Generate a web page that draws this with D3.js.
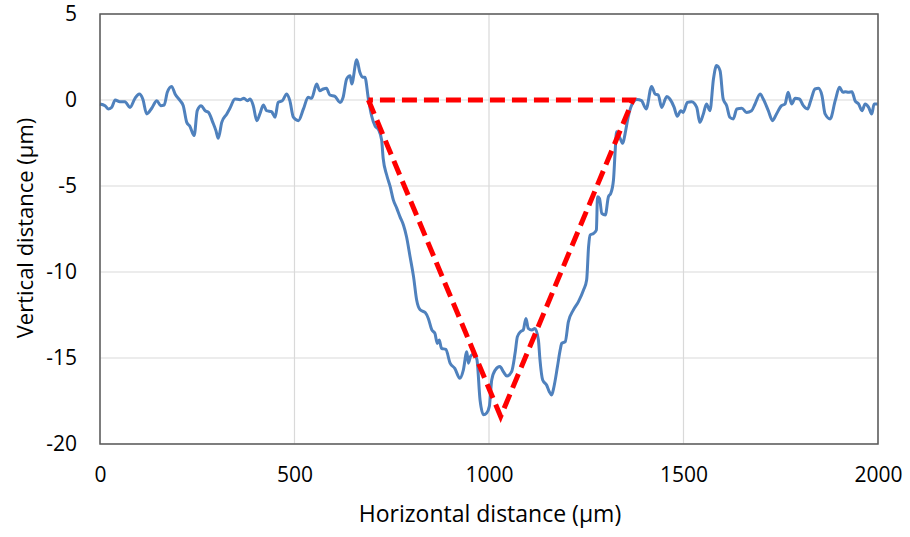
<!doctype html>
<html>
<head>
<meta charset="UTF-8">
<title>Profile</title>
<script src="https://cdn.jsdelivr.net/npm/d3@7"></script>
<style>
  body { margin: 0; background: #fff; }
  svg text { font-family: "Open Sans", "Liberation Sans", sans-serif; fill: #000; }
</style>
</head>
<body>
<div id="chart"></div>
<script>
// measured surface profile (µm)
const profileX = [0, 13, 21, 30, 39, 51, 64, 77, 90, 101, 110, 120, 133, 146, 156, 165, 173, 184, 193, 206,
  214, 223, 231, 242, 250, 260, 270, 279, 290, 298, 304, 313, 326, 334, 347, 360, 370, 379, 386, 394,
  403, 411, 420, 428, 441, 450, 458, 469, 480, 488, 497, 510, 523, 535, 544, 557, 565, 574, 582, 591,
  604, 617, 625, 634, 643, 647, 660, 668, 675, 681, 690, 698, 707, 716, 724, 728, 737, 746, 754, 763,
  771, 780, 788, 797, 806, 814, 823, 836, 844, 853, 861, 867, 872, 878, 889, 900, 912, 925, 934, 943,
  947, 953, 962, 969, 977, 986, 994, 1001, 1007, 1016, 1028, 1037, 1046, 1058, 1067, 1073, 1081, 1088, 1095, 1101,
  1110, 1118, 1127, 1131, 1138, 1148, 1155, 1161, 1167, 1176, 1183, 1187, 1196, 1204, 1217, 1230, 1243, 1251, 1256, 1260,
  1269, 1276, 1279, 1284, 1290, 1299, 1307, 1313, 1320, 1324, 1328, 1337, 1344, 1350, 1358, 1367, 1380, 1392, 1404, 1418,
  1427, 1435, 1444, 1457, 1465, 1476, 1484, 1493, 1499, 1510, 1521, 1534, 1542, 1551, 1559, 1568, 1577, 1585, 1594, 1602,
  1611, 1619, 1628, 1637, 1650, 1662, 1675, 1684, 1697, 1705, 1718, 1729, 1739, 1752, 1761, 1769, 1778, 1787, 1798, 1808,
  1819, 1827, 1838, 1847, 1856, 1864, 1877, 1890, 1901, 1910, 1916, 1924, 1933, 1941, 1950, 1959, 1967, 1976, 1984, 1990, 1999];
const profileY = [-0.23, -0.33, -0.52, -0.43, 0, -0.1, -0.1, -0.43, 0.1, 0.35, 0.06, -0.81, -0.48, -0.04, -0.33, -0.29, 0.45, 0.79, 0.35, -0.04,
  -0.33, -1.3, -1.53, -2.07, -0.62, -0.33, -0.62, -0.72, -1.3, -1.78, -2.23, -1.3, -0.81, -0.48, 0.06, 0.02, 0.1, -0.04, 0.06, -0.33,
  -1.2, -0.81, -0.29, -0.62, -0.68, -1.0, -0.14, -0.04, 0.35, -0.04, -1.0, -1.2, -0.52, 0.16, 0.1, 0.93, 0.54, 0.64, 0.68, 0.29,
  0.21, -0.14, 0.16, 1.22, 1.41, 0.93, 2.34, 1.61, 1.32, 1.32, 0.06, -0.9, -1.5, -1.72, -2.33, -3.4, -4.36, -5.04, -5.81, -6.3,
  -6.78, -7.27, -7.95, -9.1, -10.27, -11.63, -12.2, -12.36, -12.7, -13.37, -13.57, -14.15, -13.95, -14.44, -14.5, -15.3, -15.6, -16.18, -15.7, -14.63,
  -15.3, -14.88, -14.77, -15.1, -17.44, -18.3, -18.2, -17.8, -16.28, -15.7, -15.5, -15.8, -16.05, -15.8, -14.73, -13.76, -13.47, -13.37, -12.7, -13.28,
  -13.37, -13.28, -13.95, -15.1, -16.28, -16.57, -16.96, -17.15, -16.67, -15.5, -14.53, -14.15, -14.05, -12.9, -12.2, -11.72, -11.05, -10.47, -8.53, -7.85,
  -7.75, -7.56, -5.62, -5.72, -6.59, -6.69, -5.62, -5.43, -4.65, -3.1, -1.84, -2.23, -2.52, -1.94, -0.97, -0.29, 0.03, -0.04, -0.52, 0.79,
  0.35, 0.29, -0.43, 0.21, 0.06, -0.43, -0.95, -0.62, -0.72, -0.14, -0.1, -0.43, -1.3, -0.81, -0.23, -0.62, 1.22, 2.0, 1.7, 0.06,
  -0.33, -1.0, -1.1, -0.52, -0.48, -0.72, -0.62, -0.23, 0.35, 0.06, -0.62, -1.2, -0.81, -0.33, -0.23, 0.45, -0.23, 0.1, 0.06, -0.33,
  -0.52, -0.04, 0.64, 0.68, 0.25, -0.81, -1.1, -0.04, 0.74, 0.45, 0.48, 0.45, 0.48, -0.04, -0.23, -0.62, -0.23, -0.43, -0.81, -0.23, -0.23];

// fitted V-groove
const grooveX = [690, 1030, 1370, 690];
const grooveY = [0, -18.4, 0, 0];

const xTicks = [0, 500, 1000, 1500, 2000];
const yTicks = [5, 0, -5, -10, -15, -20];

const width = 910, height = 537;
const margin = { top: 14, right: 32, bottom: 93, left: 100 };
const iw = width - margin.left - margin.right;
const ih = height - margin.top - margin.bottom;

const x = d3.scaleLinear().domain([0, 2000]).range([0, iw]);
const y = d3.scaleLinear().domain([-20, 5]).range([ih, 0]);

const svg = d3.select("#chart").append("svg")
  .attr("width", width).attr("height", height);
const g = svg.append("g").attr("transform", `translate(${margin.left},${margin.top})`);

// grid
g.append("g").selectAll("line").data(xTicks).join("line")
  .attr("x1", d => x(d)).attr("x2", d => x(d)).attr("y1", 0).attr("y2", ih)
  .attr("stroke", "#d9d9d9").attr("stroke-width", 1.2);
g.append("g").selectAll("line").data(yTicks).join("line")
  .attr("x1", 0).attr("x2", iw).attr("y1", d => y(d)).attr("y2", d => y(d))
  .attr("stroke", "#d9d9d9").attr("stroke-width", 1.2);

// axes labels
const xAxis = g.append("g").attr("transform", `translate(0,${ih})`)
  .call(d3.axisBottom(x).tickValues(xTicks).tickSize(0).tickPadding(23).tickFormat(d3.format("d")));
const yAxis = g.append("g")
  .call(d3.axisLeft(y).tickValues(yTicks).tickSize(0).tickPadding(23).tickFormat(d => d));
[xAxis, yAxis].forEach(a => {
  a.select(".domain").remove();
  a.selectAll("text").style("font-size", "21px").style("font-family", "Open Sans, sans-serif");
});

// lines
const line = d3.line().x(d => x(d[0])).y(d => y(d[1])).curve(d3.curveMonotoneX);
g.append("path")
  .datum(d3.zip(profileX, profileY))
  .attr("fill", "none").attr("stroke", "#4f81bd").attr("stroke-width", 3)
  .attr("stroke-linejoin", "round").attr("d", line);

const groove = d3.line().x(d => x(d[0])).y(d => y(d[1]));
g.append("path")
  .datum(d3.zip(grooveX, grooveY))
  .attr("fill", "none").attr("stroke", "#ff0000").attr("stroke-width", 5)
  .attr("stroke-dasharray", "15,7").attr("d", groove);

// frame
g.append("rect").attr("width", iw).attr("height", ih)
  .attr("fill", "none").attr("stroke", "#595959").attr("stroke-width", 1.5);

// titles
svg.append("text")
  .attr("x", margin.left + iw / 2 + 1).attr("y", 522)
  .attr("text-anchor", "middle").style("font-size", "23px")
  .text("Horizontal distance (µm)");
svg.append("text")
  .attr("transform", `translate(33,${margin.top + ih / 2 - 1}) rotate(-90)`)
  .attr("text-anchor", "middle").style("font-size", "22px")
  .text("Vertical distance (µm)");
</script>
</body>
</html>
